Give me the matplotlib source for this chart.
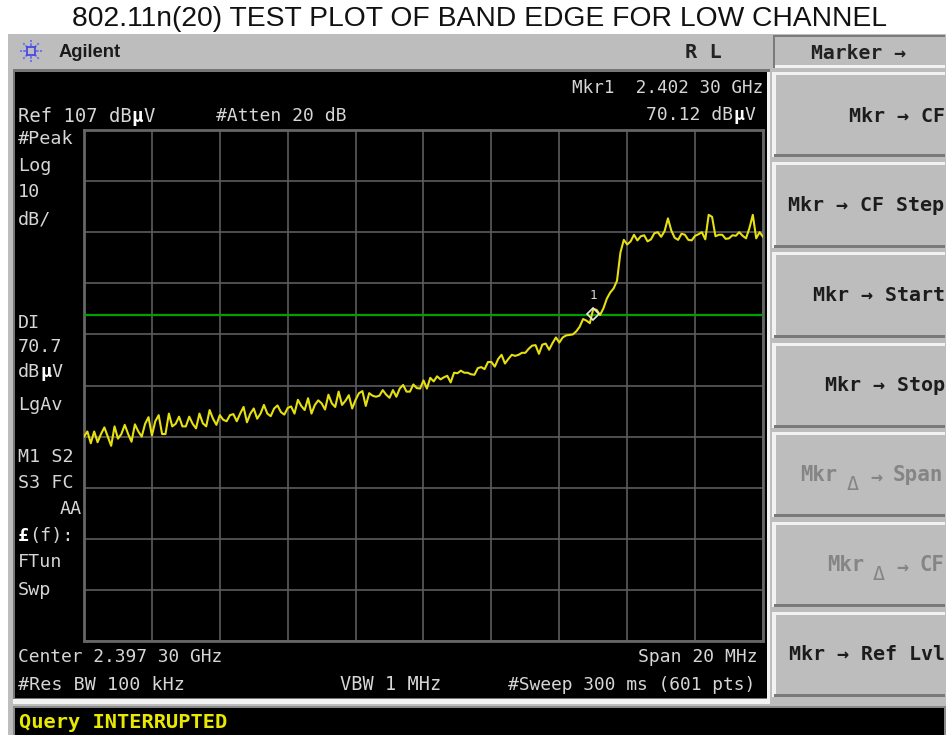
"""Agilent spectrum analyser screenshot, band edge plot"""
import matplotlib
matplotlib.use('Agg')
import matplotlib.pyplot as plt
from matplotlib.patches import Rectangle
import numpy as np

W, H = 946, 735
GRAY = '#BDBDBD'
TXT = '#D6D6D6'
MONO = 'DejaVu Sans Mono'

# sweep settings
center_ghz = 2.3973
span_ghz = 0.020
ref_level = 107
db_per_div = 10
display_line = 70.7
mkr_freq = 2.4023
mkr_level = 71.0

# trace, one value every 0.1 MHz (dBuV)
trace_db = [
    47, 48, 45.7, 48, 45.9, 47.5, 48.8, 47, 45.2, 49,
    46.6, 47.5, 49.3, 47.5, 46, 49.4, 48, 47, 49.5, 50.8,
    47.2, 50, 51.2, 47.5, 47.5, 51.5, 49, 49.5, 50.9, 49,
    49, 50.9, 49.5, 48.6, 51.5, 49.6, 49, 52.2, 50.5, 49.3,
    51.2, 50.3, 50, 51.2, 51.4, 50, 51.5, 52.8, 49.8, 51.5,
    52.5, 50.5, 51.5, 53.2, 51.5, 51, 52.5, 53.1, 51.8, 51.3,
    52.6, 52.9, 51.5, 54.2, 53, 52.2, 54.5, 51.5, 53.2, 54.1,
    53.5, 52.3, 55.2, 53.5, 52.8, 55.8, 53.2, 54, 55.1, 52.5,
    54.2, 55.5, 55.9, 53, 55.5, 55, 54.8, 55, 56.1, 55.2,
    54.6, 56.1, 54.8, 56.4, 57.1, 55.8, 55.8, 57.2, 56.5, 56.4,
    58, 56.4, 58.5, 57.8, 58.8, 58.2, 58.6, 58.9, 57.6, 59.5,
    59.4, 59.9, 59.5, 59.5, 59.2, 59.1, 60.4, 60.6, 60.2, 61.6,
    61.6, 60.7, 62.2, 63, 61.3, 62.2, 63, 62.8, 63, 63.4,
    63.4, 64.2, 64.8, 64.9, 63.2, 65, 65.2, 64, 65.3, 66.4,
    65.4, 66.4, 66.8, 66.9, 67, 67.6, 68.5, 70, 69.7, 69.2,
    72, 71.8, 70.8, 72.1, 74, 75.2, 76, 77.5, 83, 85.5,
    84.6, 85.2, 86.5, 85.4, 86.2, 86.4, 85.2, 85.6, 86.8, 87,
    86.1, 87.2, 89.7, 87.3, 85.9, 85.5, 86.7, 86.5, 85.5, 85.4,
    86.3, 86.6, 87, 85.6, 90.4, 90, 86.2, 86.5, 86.5, 85.7,
    85.8, 86.4, 86.3, 87, 86.3, 85.8, 87.8, 90.4, 85.8, 87,
    86.1,
]

# softkeys: top, bottom of each button
key_tops = [72, 162, 252, 343, 432, 522, 612]
key_bots = [157, 248, 338, 428, 517, 607, 697]

fig = plt.figure(figsize=(W / 100, H / 100), dpi=100, facecolor='white')

# whole frame in pixels
bg = fig.add_axes([0, 0, 1, 1])
bg.set_xlim(0, W)
bg.set_ylim(H, 0)
bg.axis('off')


def box(x0, y0, x1, y1, color, z=1):
    bg.add_patch(Rectangle((x0, y0), x1 - x0, y1 - y0, facecolor=color,
                           edgecolor='none', zorder=z))


def scr(x, y, s, ha='left', size=13.2, color=TXT, weight='normal'):
    # mono text, the mu and pound signs are bold on the instrument
    adv = 0.602 * size * 100 / 72
    if ha == 'right':
        x = x - adv * len(s)
    y = y + 1
    piece = ''
    start = 0
    for i, c in enumerate(s):
        if c in 'µ£':
            if piece:
                bg.text(x + adv * start, y, piece, ha='left', va='center', family=MONO,
                        fontsize=size, color=color, weight=weight, zorder=6)
            bg.text(x + adv * i, y, c, ha='left', va='center', family=MONO,
                    fontsize=size, color='white', weight='bold', zorder=6)
            piece = ''
            start = i + 1
        else:
            piece += c
    if piece:
        bg.text(x + adv * start, y, piece, ha='left', va='center', family=MONO,
                fontsize=size, color=color, weight=weight, zorder=6)


box(8, 34, W, H, GRAY)
# title
bg.text(479, 19, '802.11n(20) TEST PLOT OF BAND EDGE FOR LOW CHANNEL',
        ha='center', va='center', family='Liberation Sans', fontsize=20.3, color='#111111')

# screen
box(13, 69, 770, 704, '#777777', 2)
box(767, 72, 770, 704, '#F2F2F2', 3)
box(13, 699, 770, 704, '#F2F2F2', 3)
box(15, 72, 767, 698, 'black', 3)
# message bar
box(13, 706, W, H, '#8A8A8A', 2)
box(15, 708, 944, H, 'black', 3)

# softkeys
box(773, 35, 945, 68, '#7A7A7A', 2)
box(775, 37, 945, 65, GRAY, 3)
box(775, 65, 945, 68, '#F2F2F2', 3)
for t, b in zip(key_tops, key_bots):
    box(772, t, 945, b, '#F2F2F2', 2)
    box(776, t + 3, 945, b - 3, GRAY, 3)
    box(774, b - 3, 945, b, '#7A7A7A', 3)

# header
star_x, star_y = 31, 51
for a in np.deg2rad(np.arange(0, 360, 45)):
    bg.plot([star_x + 5 * np.cos(a), star_x + 11 * np.cos(a)],
            [star_y + 5 * np.sin(a), star_y + 11 * np.sin(a)],
            color='#6A6AF0', lw=1.3, ls=(0, (1.5, 0.7)), zorder=5)
bg.plot([star_x], [star_y], marker='s', ms=6, mfc='none', mec='#4848E0', mew=1.3, zorder=5)
bg.text(59, 52, 'Agilent', ha='left', va='center', family='Liberation Sans',
        weight='bold', fontsize=13.2, color='#1A1A1A', zorder=6)
scr(685, 51, 'R L', size=14.6, color='#222222', weight='bold')
scr(811, 52, 'Marker →', size=14.2, color='#222222', weight='bold')

# softkey labels
dark = '#1C1C1C'
dim = '#858585'
scr(945, 115, 'Mkr → CF', ha='right', size=14.4, color=dark, weight='bold')
scr(945, 204, 'Mkr → CF Step', ha='right', size=14.4, color=dark, weight='bold')
scr(945, 294, 'Mkr → Start', ha='right', size=14.4, color=dark, weight='bold')
scr(945, 384, 'Mkr → Stop', ha='right', size=14.4, color=dark, weight='bold')
scr(800, 474, 'Mkr', size=14.8, color=dim, weight='bold')
scr(847, 483, 'Δ', size=14.4, color=dim)
scr(870, 477, '→', size=14.4, color=dim, weight='bold')
scr(893, 474, 'Span', size=15.0, color=dim, weight='bold')
scr(827, 564, 'Mkr', size=14.8, color=dim, weight='bold')
scr(873, 573, 'Δ', size=14.4, color=dim)
scr(896, 567, '→', size=14.4, color=dim, weight='bold')
scr(919, 564, 'CF', size=14.8, color=dim, weight='bold')
scr(946, 654, 'Mkr → Ref Lvl', ha='right', size=14.4, color=dark, weight='bold')

# screen annotations
scr(572, 87, 'Mkr1  2.402 30 GHz', size=12.7)
scr(755, 114, '70.12 dBµV', ha='right', size=13.0)
scr(18, 115, 'Ref 107 dBµV', size=13.6)
scr(216, 115, '#Atten 20 dB', size=13.0)
for y, s in [(138, '#Peak'), (165, 'Log'), (191, '10'), (218, 'dB/'), (322, 'DI'),
             (346, '70.7'), (371, 'dBµV'), (404, 'LgAv'), (456, 'M1 S2'), (482, 'S3 FC'),
             (535, '£(f):'), (561, 'FTun'), (589, 'Swp')]:
    scr(18, y, s, size=13.2)
scr(82, 508, 'AA', ha='right', size=13.2)
scr(18, 656, 'Center 2.397 30 GHz', size=12.9)
scr(18, 684, '#Res BW 100 kHz', size=13.2)
scr(340, 684, 'VBW 1 MHz', size=13.4)
scr(758, 656, 'Span 20 MHz', ha='right', size=13.0)
scr(756, 684, '#Sweep 300 ms (601 pts)', ha='right', size=12.9)
scr(19, 721, 'Query INTERRUPTED', size=14.7, color='#E8E800', weight='bold')

# trace axes
ax = fig.add_axes([84 / W, 1 - 641 / H, 679 / W, 511 / H], facecolor='black', zorder=4)
f_lo = center_ghz - span_ghz / 2
f_hi = center_ghz + span_ghz / 2
freqs = np.linspace(f_lo, f_hi, len(trace_db))
ax.set_xlim(f_lo, f_hi)
ax.set_ylim(ref_level - 10 * db_per_div, ref_level)
ax.set_xticks(np.linspace(f_lo, f_hi, 11))
ax.set_yticks(np.arange(ref_level - 10 * db_per_div, ref_level + 1, db_per_div))
ax.tick_params(length=0, labelbottom=False, labelleft=False)
ax.grid(True, color='#5C5C5C', lw=1.2)
ax.set_axisbelow(True)
for sp in ax.spines.values():
    sp.set_color('#666666')
    sp.set_linewidth(2)

ax.axhline(display_line, color='#00A000', lw=1.6, zorder=3)
ax.plot(freqs, trace_db, color='#E6E010', lw=1.5, zorder=4)
ax.plot([mkr_freq], [mkr_level], marker='D', ms=6.5, mfc='none', mec='#E8E8E8', mew=1.2, zorder=5)
ax.annotate('1', (mkr_freq, mkr_level), xytext=(0, 13), textcoords='offset points',
            ha='center', va='center', family=MONO, fontsize=9, color='#D8D8D8', zorder=6)

fig.savefig('out.png', dpi=100, facecolor='white')
plt.close(fig)
